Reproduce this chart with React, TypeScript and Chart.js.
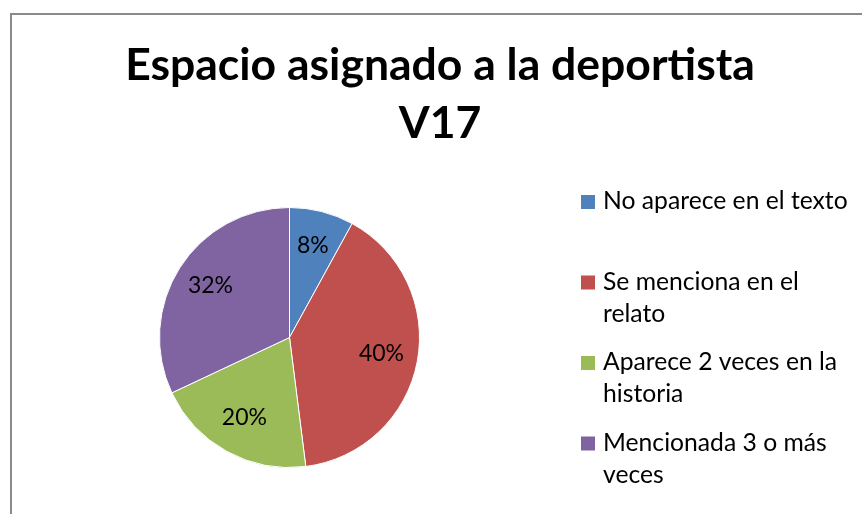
import React, { useEffect, useRef } from "react";
import { Chart, registerables } from "chart.js";

Chart.register(...registerables);

const categories: string[][] = [
  ["No aparece en el texto"],
  ["Se menciona en el", "relato"],
  ["Aparece 2 veces en la", "historia"],
  ["Mencionada 3 o más", "veces"],
];
const values: number[] = [8, 40, 20, 32];
const colors: string[] = ["#4F81BD", "#C0504D", "#9BBB59", "#8064A2"];
const titleLines: string[] = ["Espacio asignado a la deportista", "V17"];

const FONT = "Lato, 'Open Sans', sans-serif";

const overlayPlugin = {
  id: "overlay",
  afterDraw(chart: any) {
    const ctx = chart.ctx as CanvasRenderingContext2D;
    ctx.save();
    // Title
    ctx.fillStyle = "#000";
    ctx.font = `bold 44.5px ${FONT}`;
    ctx.textAlign = "center";
    ctx.textBaseline = "alphabetic";
    ctx.fillText(titleLines[0], 440, 80);
    ctx.fillText(titleLines[1], 440, 138);

    // Data labels
    const meta = chart.getDatasetMeta(0);
    const data = chart.data.datasets[0].data as number[];
    const total = data.reduce((a, b) => a + b, 0);
    ctx.font = `23px ${FONT}`;
    ctx.textBaseline = "middle";
    meta.data.forEach((arc: any, i: number) => {
      const p = arc.getProps(["x", "y", "startAngle", "endAngle", "outerRadius"], true);
      const mid = (p.startAngle + p.endAngle) / 2;
      const r = p.outerRadius * 0.72;
      const pct = Math.round((data[i] / total) * 100);
      ctx.fillStyle = "#000";
      ctx.fillText(`${pct}%`, p.x + Math.cos(mid) * r, p.y + Math.sin(mid) * r - 1.5);
    });

    // Legend
    const labels = chart.data.labels as string[][];
    const bg = chart.data.datasets[0].backgroundColor as string[];
    ctx.textAlign = "left";
    ctx.textBaseline = "alphabetic";
    ctx.font = `24.7px ${FONT}`;
    labels.forEach((lines, i) => {
      const base = 209 + i * 80.5;
      ctx.fillStyle = bg[i];
      ctx.fillRect(581, base - 14, 14, 14);
      ctx.fillStyle = "#000";
      lines.forEach((ln, j) => ctx.fillText(ln, 603, base + j * 32));
    });
    ctx.restore();
  },
};

export default function App() {
  const ref = useRef<HTMLCanvasElement | null>(null);
  useEffect(() => {
    if (!ref.current) return;
    const chart = new Chart(ref.current, {
      type: "pie",
      data: {
        labels: categories as any,
        datasets: [
          {
            data: values,
            backgroundColor: colors,
            borderColor: "#ffffff",
            borderWidth: 1,
          },
        ],
      },
      options: {
        responsive: false,
        animation: false,
        layout: { padding: { left: 159, top: 207, right: 442, bottom: 46 } },
        plugins: {
          legend: { display: false },
          title: { display: false },
          tooltip: { enabled: false },
        },
      },
      plugins: [overlayPlugin],
    });
    return () => chart.destroy();
  }, []);
  return (
    <div style={{ position: "fixed", left: 0, top: 0, width: 862, height: 514, overflow: "hidden", background: "#fff" }}>
      <div
        style={{
          position: "absolute",
          left: 10,
          top: 13,
          width: 900,
          height: 600,
          borderLeft: "2px solid #8a8a8a",
          borderTop: "2px solid #8a8a8a",
          boxSizing: "border-box",
        }}
      />
      <canvas ref={ref} width={862} height={514} style={{ position: "absolute", left: 0, top: 0 }} />
    </div>
  );
}
